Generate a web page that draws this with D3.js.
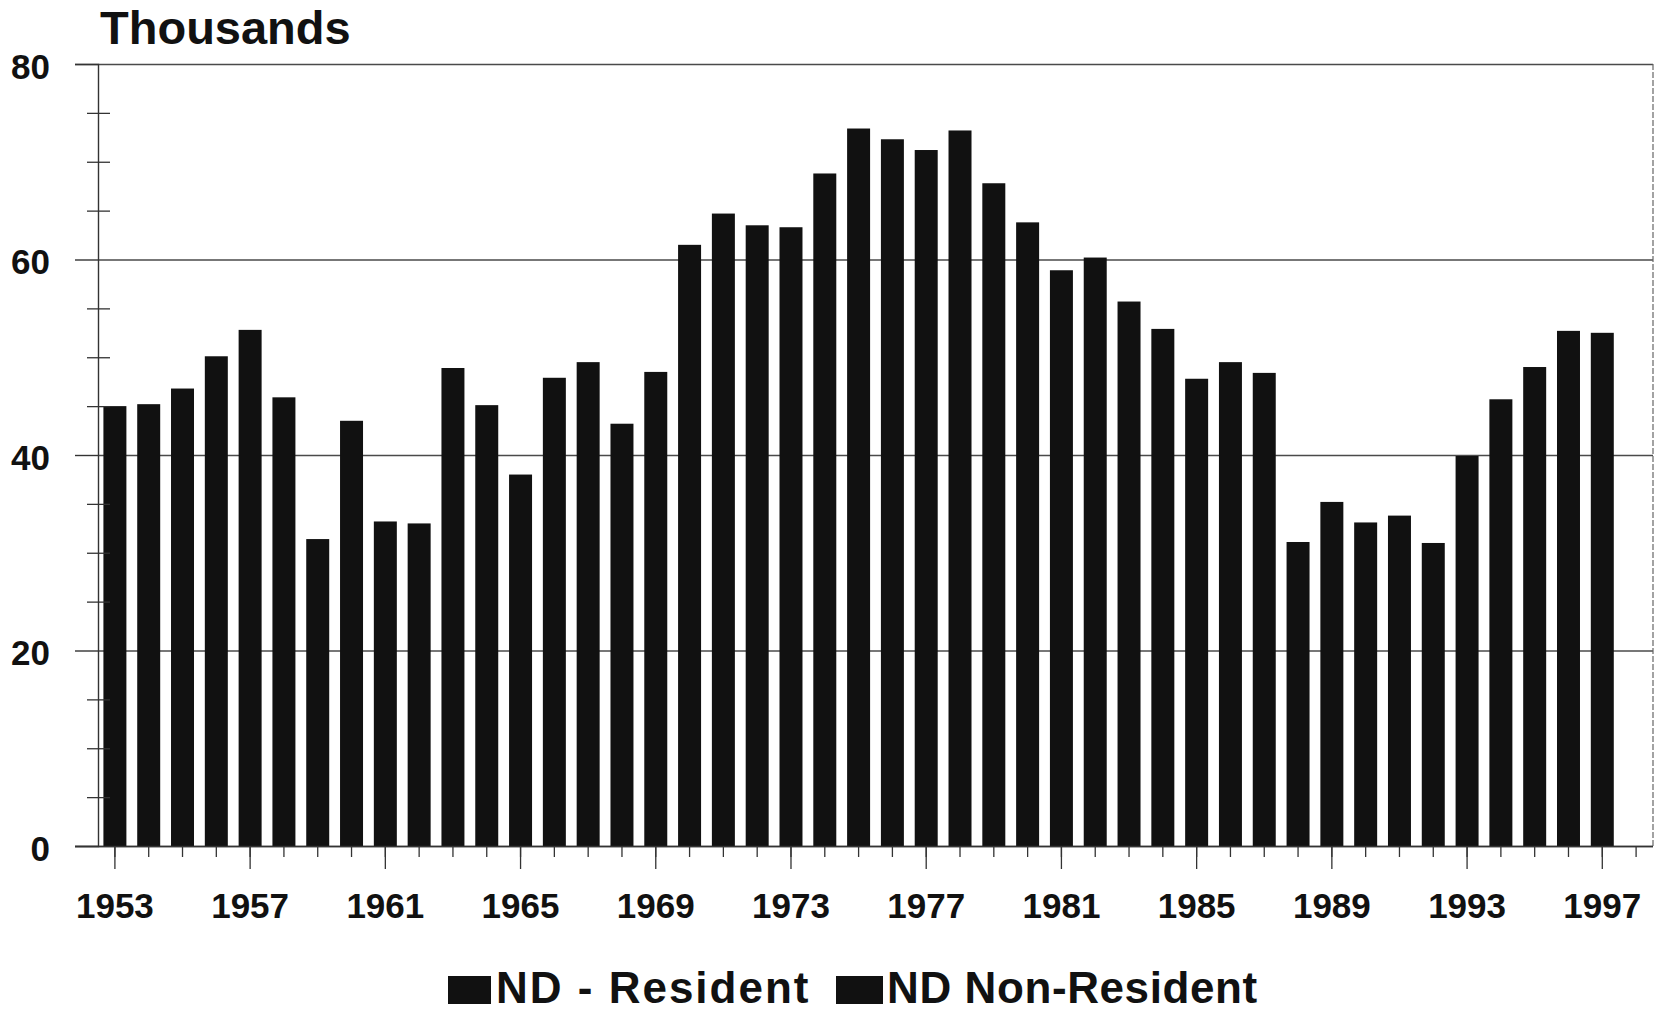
<!DOCTYPE html>
<html>
<head>
<meta charset="utf-8">
<script src="https://cdn.jsdelivr.net/npm/d3@7"></script>
<style>
  html, body { margin: 0; padding: 0; background: #fff; }
  svg { display: block; }
  text { font-family: "Liberation Sans", Arial, sans-serif; font-weight: bold; fill: #111; }
</style>
</head>
<body>
<svg id="chart" width="1661" height="1013"></svg>
<script>
// ---- data (thousands) ----
const years = [1953,1954,1955,1956,1957,1958,1959,1960,1961,1962,1963,1964,1965,1966,1967,1968,1969,1970,1971,1972,1973,1974,1975,1976,1977,1978,1979,1980,1981,1982,1983,1984,1985,1986,1987,1988,1989,1990,1991,1992,1993,1994,1995,1996,1997,1998];
const ndTotal = [45.0,45.2,46.8,50.1,52.8,45.9,31.4,43.5,33.2,33.0,48.9,45.1,38.0,47.9,49.5,43.2,48.5,61.5,64.7,63.5,63.3,68.8,73.4,72.3,71.2,73.2,67.8,63.8,58.9,60.2,55.7,52.9,47.8,49.5,48.4,31.1,35.2,33.1,33.8,31.0,39.9,45.7,49.0,52.7,52.5,null];
const yTicks = [0,20,40,60,80];
const minorTicks = [5,10,15,25,30,35,45,50,55,65,70,75];
const labelYears = [1953,1957,1961,1965,1969,1973,1977,1981,1985,1989,1993,1997];
const legendLabels = ["ND - Resident","ND Non-Resident"];
const yTitle = "Thousands";

// ---- layout ----
const svg = d3.select("#chart");
const L = 98, R = 1653, T = 64, B = 846;

const x = d3.scaleBand().domain(years).range([L, R]).paddingInner(0.32).paddingOuter(0.16);
const y = d3.scaleLinear().domain([0, 80]).range([B, T]);

// gridlines
const grid = svg.append("g").attr("transform", `translate(${L},0)`)
  .call(d3.axisLeft(y).tickValues(yTicks).tickSize(-(R - L)).tickFormat(""));
grid.select(".domain").remove();
grid.selectAll("line").attr("stroke", "#4a4a4a").attr("stroke-width", 1.4);

// right border
svg.append("line").attr("x1", R).attr("x2", R).attr("y1", T).attr("y2", B)
  .attr("stroke", "#666").attr("stroke-width", 1.2).attr("stroke-dasharray", "6,2");

// bars
svg.append("g").selectAll("rect")
  .data(years.map((yr, i) => ({yr, v: ndTotal[i]})).filter(d => d.v != null))
  .join("rect")
  .attr("x", d => x(d.yr))
  .attr("width", x.bandwidth())
  .attr("y", d => y(d.v))
  .attr("height", d => y(0) - y(d.v))
  .attr("fill", "#111");

// y axis (major ticks + labels)
const yAxis = svg.append("g").attr("transform", `translate(${L},0)`)
  .call(d3.axisLeft(y).tickValues(yTicks).tickSize(23).tickFormat(d3.format("d")));
yAxis.select(".domain").attr("stroke", "#333").attr("stroke-width", 1.4);
yAxis.selectAll("line").attr("stroke", "#333").attr("stroke-width", 1.4);
yAxis.selectAll("text").attr("x", -48).attr("dy", 14)
  .style("font-size", "35px").style("font-family", "Liberation Sans, Arial, sans-serif")
  .style("font-weight", "bold").attr("fill", "#111");

// y minor ticks (crossing)
const yMinor = svg.append("g").attr("transform", `translate(${L + 12},0)`)
  .call(d3.axisLeft(y).tickValues(minorTicks).tickSize(23).tickFormat(""));
yMinor.select(".domain").remove();
yMinor.selectAll("line").attr("stroke", "#333").attr("stroke-width", 1.3);

// x axis: short ticks for every year
const xMinor = svg.append("g").attr("transform", `translate(0,${B})`)
  .call(d3.axisBottom(x).tickSize(11).tickFormat(""));
xMinor.select(".domain").attr("stroke", "#333").attr("stroke-width", 1.4)
  .attr("d", `M${L - 23},0.5H${R}`);
xMinor.selectAll("line").attr("stroke", "#333").attr("stroke-width", 1.3);

// x axis: long ticks + labels
const xMajor = svg.append("g").attr("transform", `translate(0,${B})`)
  .call(d3.axisBottom(x).tickValues(labelYears).tickSize(23));
xMajor.select(".domain").remove();
xMajor.selectAll("line").attr("stroke", "#333").attr("stroke-width", 1.3);
xMajor.selectAll("text").attr("y", 72).attr("dy", 0)
  .style("font-size", "35px").style("font-family", "Liberation Sans, Arial, sans-serif")
  .style("font-weight", "bold").attr("fill", "#111");

// title
svg.append("text").attr("x", 100).attr("y", 44).style("font-size", "47px").text(yTitle);

// legend
const legendPos = [{bx: 448, bw: 43, tx: 496, ls: 2}, {bx: 836, bw: 47, tx: 887, ls: 0.6}];
const lg = svg.append("g").selectAll("g").data(legendLabels).join("g");
lg.append("rect")
  .attr("x", (d, i) => legendPos[i].bx).attr("y", 976)
  .attr("width", (d, i) => legendPos[i].bw).attr("height", 28)
  .attr("fill", "#111");
lg.append("text")
  .attr("x", (d, i) => legendPos[i].tx).attr("y", 1003)
  .style("font-size", "44px")
  .style("letter-spacing", (d, i) => legendPos[i].ls + "px")
  .text(d => d);
</script>
</body>
</html>
